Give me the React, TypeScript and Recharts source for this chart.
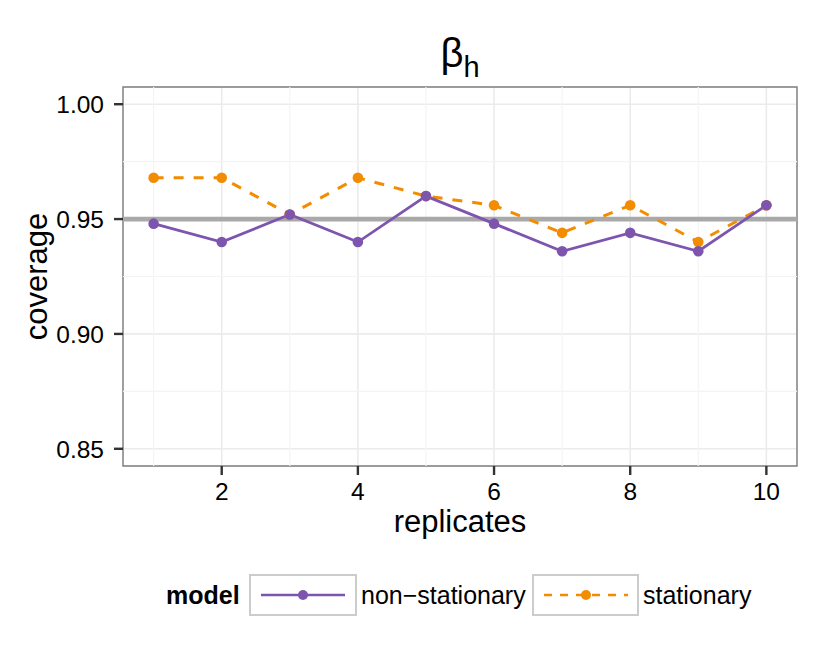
import React from 'react';
import {
  LineChart,
  Line,
  XAxis,
  YAxis,
  CartesianGrid,
  ReferenceLine,
  ReferenceArea,
  Label,
} from 'recharts';

// ---- data ----
const replicates = [1, 2, 3, 4, 5, 6, 7, 8, 9, 10];
const nonStationary = [0.948, 0.94, 0.952, 0.94, 0.96, 0.948, 0.936, 0.944, 0.936, 0.956];
const stationary = [0.968, 0.968, 0.952, 0.968, 0.96, 0.956, 0.944, 0.956, 0.94, 0.956];
const xTicks = [2, 4, 6, 8, 10];
const xMinor = [1, 3, 5, 7, 9];
const yTicks = [0.85, 0.9, 0.95, 1.0];
const yMinor = [0.875, 0.925, 0.975];
const nominal = 0.95;
const seriesNames = ['non\u2212stationary', 'stationary'];
const seriesColors = ['#7E55AE', '#F28C00'];

const data = replicates.map((r, i) => ({
  rep: r,
  ns: nonStationary[i],
  st: stationary[i],
}));

const FONT = '"Liberation Sans", Arial, Helvetica, sans-serif';

const XTick = (props: any) => {
  const { x, y, payload } = props;
  return (
    <text x={x} y={y + 23} textAnchor="middle" fontSize={24.5} fontFamily={FONT} fill="#000">
      {payload.value}
    </text>
  );
};

const YTick = (props: any) => {
  const { x, y, payload } = props;
  return (
    <text x={x} y={y + 8.8} textAnchor="end" fontSize={24.5} fontFamily={FONT} fill="#000">
      {Number(payload.value).toFixed(2)}
    </text>
  );
};

const XTitle = (props: any) => {
  const vb = props.viewBox || {};
  return (
    <text
      x={vb.x + vb.width / 2}
      y={vb.y + 66}
      textAnchor="middle"
      fontSize={31}
      fontFamily={FONT}
      fill="#000"
    >
      replicates
    </text>
  );
};

const YTitle = (props: any) => {
  const vb = props.viewBox || {};
  const cx = vb.x - 16;
  const cy = vb.y + vb.height / 2;
  return (
    <text
      x={cx}
      y={cy}
      transform={`rotate(-90 ${cx} ${cy})`}
      textAnchor="middle"
      fontSize={31}
      fontFamily={FONT}
      fill="#000"
    >
      coverage
    </text>
  );
};

export default function App() {
  return (
    <div
      style={{
        position: 'absolute',
        left: 0,
        top: 0,
        width: 830,
        height: 664,
        background: '#fff',
      }}
    >
      <LineChart
        width={830}
        height={664}
        data={data}
        margin={{ top: 87, right: 33, bottom: 158, left: 63 }}
      >
        {xMinor.map((v) => (
          <ReferenceLine key={'xm' + v} x={v} stroke="#F4F4F4" strokeWidth={1.2} />
        ))}
        {yMinor.map((v) => (
          <ReferenceLine key={'ym' + v} y={v} stroke="#F4F4F4" strokeWidth={1.2} />
        ))}
        <CartesianGrid stroke="#EBEBEB" strokeWidth={1.6} />
        <XAxis
          dataKey="rep"
          type="number"
          domain={[0.55, 10.45]}
          ticks={xTicks}
          allowDataOverflow
          axisLine={false}
          tickSize={9}
          tickLine={{ stroke: '#333', strokeWidth: 2.4 }}
          tick={<XTick />}
          height={40}
          interval={0}
        >
          <Label content={<XTitle />} />
        </XAxis>
        <YAxis
          type="number"
          domain={[0.8425, 1.0075]}
          ticks={yTicks}
          allowDataOverflow
          axisLine={false}
          tickSize={9}
          tickMargin={10}
          tickLine={{ stroke: '#333', strokeWidth: 2.4 }}
          tick={<YTick />}
          width={60}
          interval={0}
        >
          <Label content={<YTitle />} />
        </YAxis>
        <ReferenceLine y={nominal} stroke="#A9A9A9" strokeWidth={4.8} />
        <Line
          dataKey="st"
          name={seriesNames[1]}
          stroke={seriesColors[1]}
          strokeWidth={3}
          strokeDasharray="10 10"
          dot={{ r: 5.3, fill: seriesColors[1], stroke: 'none', strokeDasharray: '' }}
          activeDot={false}
          isAnimationActive={false}
        />
        <Line
          dataKey="ns"
          name={seriesNames[0]}
          stroke={seriesColors[0]}
          strokeWidth={2.8}
          dot={{ r: 5.3, fill: seriesColors[0], stroke: 'none' }}
          activeDot={false}
          isAnimationActive={false}
        />
        <ReferenceArea
          x1={0.55}
          x2={10.45}
          y1={0.8425}
          y2={1.0075}
          fill="none"
          stroke="#7F7F7F"
          strokeWidth={1.4}
          ifOverflow="visible"
        />
      </LineChart>
      <svg
        width={830}
        height={664}
        style={{ position: 'absolute', left: 0, top: 0, pointerEvents: 'none' }}
      >
        <text x={460} y={67} textAnchor="middle" fontFamily={FONT} fill="#000">
          <tspan fontSize={40}>β</tspan>
          <tspan fontSize={29} dy={10}>h</tspan>
        </text>
        <g fontFamily={FONT}>
          <text x={166} y={604} fontSize={25} fontWeight="bold" fill="#000">
            model
          </text>
          <rect x={250} y={575} width={106} height={40} fill="#fff" stroke="#CCCCCC" strokeWidth={2} />
          <line x1={261} y1={595} x2={345} y2={595} stroke={seriesColors[0]} strokeWidth={2.5} />
          <circle cx={303} cy={595} r={5} fill={seriesColors[0]} />
          <text x={361} y={604} fontSize={25} fill="#000">
            {seriesNames[0]}
          </text>
          <rect x={533} y={575} width={105} height={40} fill="#fff" stroke="#CCCCCC" strokeWidth={2} />
          <line
            x1={544}
            y1={595}
            x2={628}
            y2={595}
            stroke={seriesColors[1]}
            strokeWidth={2.5}
            strokeDasharray="8 8"
          />
          <circle cx={586} cy={595} r={5} fill={seriesColors[1]} />
          <text x={643} y={604} fontSize={25} fill="#000">
            {seriesNames[1]}
          </text>
        </g>
      </svg>
    </div>
  );
}
